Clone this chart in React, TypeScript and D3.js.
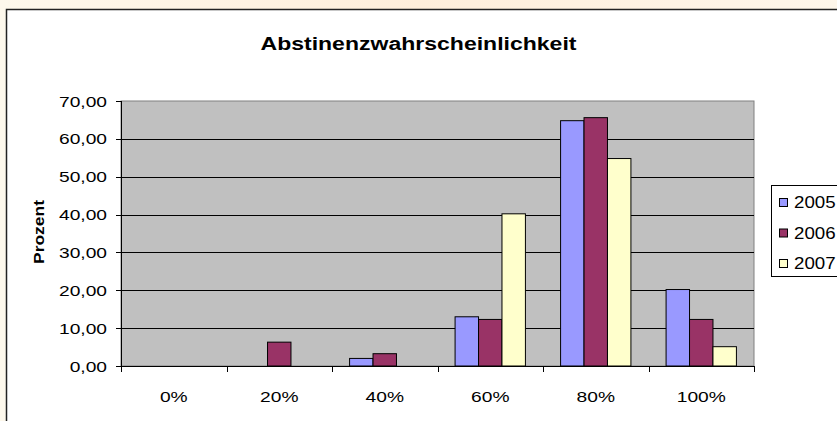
import React from "react";
import * as d3 from "d3";

const categories = ["0%", "20%", "40%", "60%", "80%", "100%"];
const seriesNames = ["2005", "2006", "2007"];
const values2005 = [0, 0, 2.0, 13.0, 64.8, 20.2];
const values2006 = [0, 6.3, 3.25, 12.3, 65.6, 12.3];
const values2007 = [0, 0, 0, 40.2, 54.8, 5.1];
const yTicks = [0, 10, 20, 30, 40, 50, 60, 70];
const colors = ["#9999ff", "#993366", "#ffffcc"];
const title = "Abstinenzwahrscheinlichkeit";
const yTitle = "Prozent";

const W = 837;
const H = 421;
const SX = 1.28;
const FONT = "'Liberation Sans', Arial, sans-serif";

export default function App() {
  const series = [values2005, values2006, values2007];
  const left = 121, right = 754, top = 101, bottom = 366;
  const x0 = d3.scaleBand<string>().domain(categories).range([left, right]).padding(0);
  const x1 = d3.scaleBand<string>().domain(seriesNames).range([0, x0.bandwidth()]).paddingInner(0).paddingOuter(0.75);
  const y = d3.scaleLinear().domain([0, 70]).range([bottom, top]);
  const fmt = (v: number) => d3.format(".2f")(v).replace(".", ",");

  const stretched = (key: string, x: number, yy: number, txt: string, size: number, anchor: string, bold = false, sx = SX) => (
    <text key={key} transform={`translate(${x},${yy}) scale(${sx},1)`} textAnchor={anchor}
      fontFamily={FONT} fontSize={size} fontWeight={bold ? "bold" : "normal"} fill="#000">{txt}</text>
  );

  return (
    <svg width={W} height={H} style={{ position: "absolute", left: 0, top: 0, display: "block" }}>
      <defs>
        <linearGradient id="bg" x1="0" y1="0" x2="1" y2="0">
          <stop offset="0" stopColor="#fdf8ec" />
          <stop offset="0.5" stopColor="#fdeedb" />
          <stop offset="1" stopColor="#fdf6ea" />
        </linearGradient>
      </defs>
      <rect x={0} y={0} width={W} height={H} fill="url(#bg)" />
      <rect x={6.5} y={9.5} width={W + 20} height={H + 20} fill="#ffffff" stroke="#222" strokeWidth={1.5} />
      {stretched("title", W / 2 - 0, 50, title, 18, "middle", true)}
      <rect x={left} y={top} width={right - left} height={bottom - top} fill="#c0c0c0" stroke="#808080" strokeWidth={1} />
      {yTicks.filter(t => t > 0 && t < 70).map(t => (
        <line key={"g" + t} x1={left} x2={right} y1={Math.round(y(t)) + 0.5} y2={Math.round(y(t)) + 0.5} stroke="#000" strokeWidth={1} />
      ))}
      {categories.map((c, ci) =>
        series.map((vals, si) => {
          const v = vals[ci];
          if (v <= 0) return null;
          const bx = (x0(c) as number) + (x1(seriesNames[si]) as number);
          return (
            <rect key={c + si} x={bx} y={y(v)} width={x1.bandwidth()} height={y(0) - y(v)}
              fill={colors[si]} stroke="#000" strokeWidth={1} />
          );
        })
      )}
      <line x1={left + 0.5} x2={left + 0.5} y1={top} y2={bottom + 5} stroke="#000" strokeWidth={1} />
      <line x1={left} x2={right} y1={bottom + 0.5} y2={bottom + 0.5} stroke="#000" strokeWidth={1} />
      {yTicks.map(t => (
        <g key={"yt" + t}>
          <line x1={left - 5} x2={left} y1={Math.round(y(t)) + 0.5} y2={Math.round(y(t)) + 0.5} stroke="#000" />
          {stretched("yl" + t, 107, y(t) + 5.5, fmt(t), 15, "end")}
        </g>
      ))}
      {[...categories.map(c => x0(c) as number), right].map((xv, i) => (
        <line key={"xt" + i} x1={Math.round(xv) + 0.5} x2={Math.round(xv) + 0.5} y1={bottom} y2={bottom + 6} stroke="#000" />
      ))}
      {categories.map(c => stretched("xl" + c, (x0(c) as number) + x0.bandwidth() / 2, 402, c, 15, "middle"))}
      <text transform={`translate(44,232) rotate(-90)`} textAnchor="middle" fontFamily={FONT}
        fontSize={15} fontWeight="bold" textLength={64} lengthAdjust="spacingAndGlyphs">{yTitle}</text>
      <rect x={771.5} y={185.5} width={80} height={91} fill="#fff" stroke="#000" strokeWidth={1} />
      {seriesNames.map((s, i) => (
        <g key={"lg" + s}>
          <rect x={779.5} y={198.5 + i * 30.5} width={8} height={8} fill={colors[i]} stroke="#000" strokeWidth={1} />
          {stretched("lt" + s, 794, 208 + i * 30.5, s, 16, "start", false, 1.17)}
        </g>
      ))}
    </svg>
  );
}
